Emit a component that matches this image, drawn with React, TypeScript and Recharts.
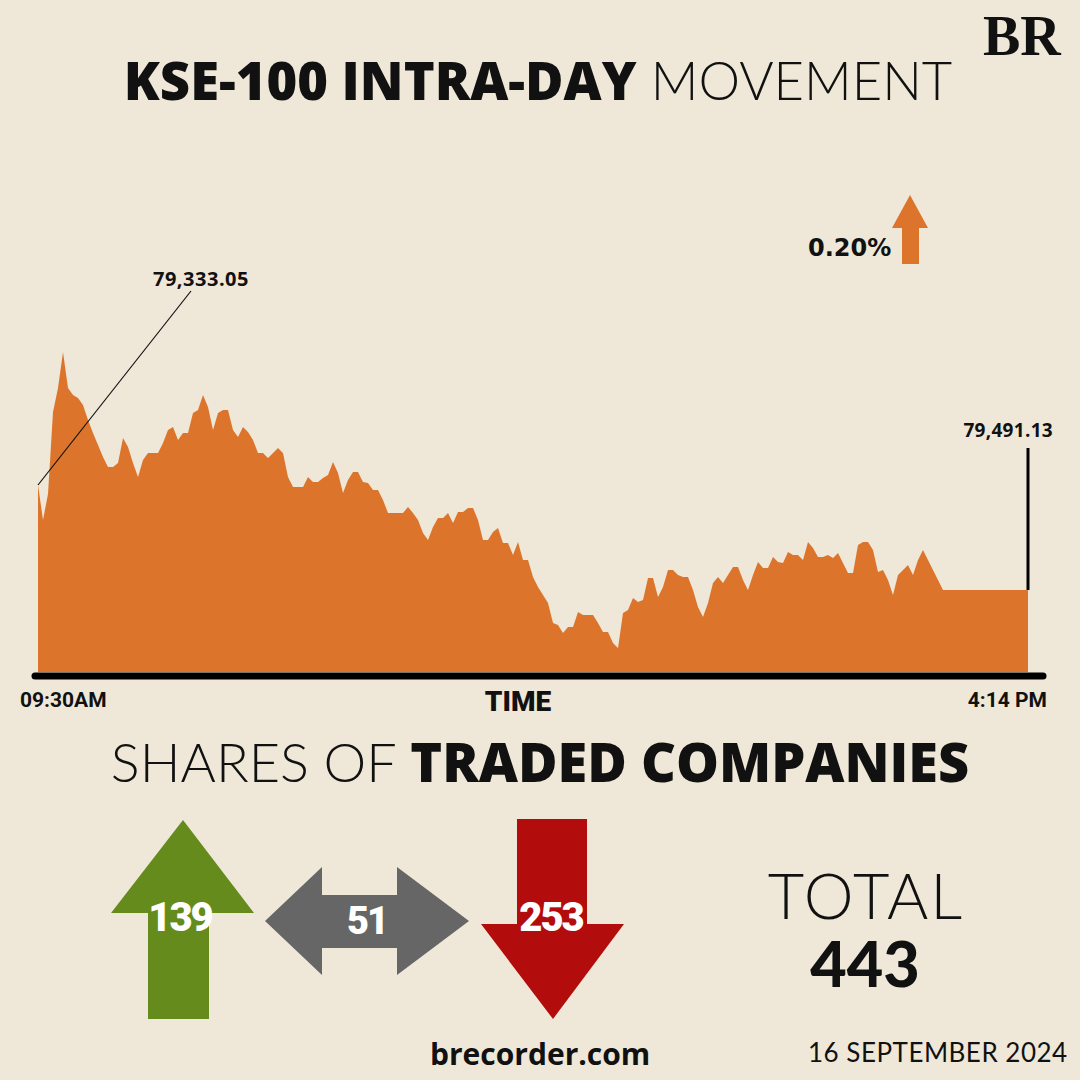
import { AreaChart, Area, XAxis, YAxis, ReferenceLine, Label } from 'recharts';

// KSE-100 level, read off the picture as height above the time axis (no y scale is printed)
const levels = [
  187, 152, 178, 260, 284, 320, 284, 277, 274, 267,
  252, 239, 227, 215, 205, 205, 209, 234, 225, 209,
  195, 212, 219, 219, 219, 229, 242, 245, 232, 239,
  239, 259, 262, 277, 265, 242, 259, 262, 262, 242,
  235, 245, 240, 232, 219, 219, 214, 219, 224, 219,
  195, 185, 185, 185, 195, 190, 190, 194, 197, 210,
  199, 179, 192, 200, 200, 190, 189, 182, 182, 172,
  159, 159, 159, 159, 165, 159, 152, 139, 132, 145,
  154, 154, 159, 149, 160, 160, 164, 164, 152, 132,
  132, 140, 144, 129, 129, 117, 130, 112, 112, 95,
  85, 77, 69, 49, 47, 39, 45, 45, 60, 57,
  57, 57, 49, 40, 40, 29, 24, 59, 62, 74,
  70, 72, 94, 94, 75, 85, 102, 102, 97, 95,
  95, 82, 65, 55, 69, 89, 95, 89, 97, 105,
  105, 92, 82, 97, 110, 104, 104, 115, 110, 109,
  120, 117, 117, 112, 130, 124, 115, 115, 117, 114,
  119, 109, 99, 99, 127, 130, 130, 122, 100, 102,
  92, 77, 97, 102, 107, 97, 112, 122, 112, 102,
  92, 82, 82, 82, 82, 82, 82, 82, 82, 82,
  82, 82, 82, 82, 82, 82, 82, 82, 82,
];

const timeLabels = ['09:30AM', '4:14 PM'];
const openValue = '79,333.05';
const closeValue = '79,491.13';
const changePct = '0.20%';

const breadthLabels = ['up', 'unchanged', 'down'];
const breadthCounts = [139, 51, 253];

const BG = '#efe8d8';
const ORANGE = '#dd742c';

const rows = levels.map((v, i) => ({ i, v }));
const lastIdx = levels.length - 1;

function TimeTick(props: any) {
  const { x, y, payload } = props;
  const first = payload.value === 0;
  return (
    <text
      x={first ? x - 18 : x + 19}
      y={y + 23}
      textAnchor={first ? 'start' : 'end'}
      fontFamily="Roboto"
      fontWeight={700}
      fontSize={21}
      fill="#111"
    >
      {first ? timeLabels[0] : timeLabels[1]}
    </text>
  );
}

function TimeLabel() {
  return (
    <text x={518} y={711} textAnchor="middle" fontFamily="Roboto" fontWeight={900} fontSize={28} fill="#111">
      TIME
    </text>
  );
}

export default function App() {
  const total = breadthCounts.reduce((a, b) => a + b, 0);
  return (
    <div style={{ position: 'absolute', left: 0, top: 0, width: 1080, height: 1080, background: BG, overflow: 'hidden' }}>
      <div style={{ position: 'absolute', left: 0, top: 0 }}>
        <AreaChart width={1080} height={720} data={rows} margin={{ top: 92, right: 37, left: 35, bottom: 0 }}>
          <XAxis
            type="number"
            dataKey="i"
            domain={[0, lastIdx]}
            ticks={[0, lastIdx]}
            interval={0}
            padding={{ left: 3, right: 15 }}
            height={44}
            axisLine={{ stroke: '#000', strokeWidth: 7, strokeLinecap: 'round' }}
            tickLine={false}
            tick={(p: any) => <TimeTick {...p} />}
          >
            <Label content={<TimeLabel />} />
          </XAxis>
          <YAxis
            domain={[-4, 580]}
            width={0}
            tick={false}
            tickLine={false}
            allowDataOverflow
            axisLine={{ stroke: '#000', strokeWidth: 7, strokeLinecap: 'round' }}
          />
          <Area
            type="linear"
            dataKey="v"
            stroke="none"
            fill={ORANGE}
            fillOpacity={1}
            dot={false}
            activeDot={false}
            isAnimationActive={false}
          />
          <ReferenceLine
            segment={[{ x: 0, y: levels[0] }, { x: 30.6, y: 381 }]}
            stroke="#111"
            strokeWidth={1.2}
            ifOverflow="visible"
          />
          <ReferenceLine
            segment={[{ x: lastIdx, y: levels[lastIdx] }, { x: lastIdx, y: 224 }]}
            stroke="#000"
            strokeWidth={3}
            ifOverflow="visible"
          />
        </AreaChart>
      </div>

      <svg width={1080} height={1080} style={{ position: 'absolute', left: 0, top: 0, pointerEvents: 'none' }}>
        {/* masthead */}
        <text x={983} y={55} fontFamily="Liberation Serif" fontWeight={700} fontSize={56} fill="#111">BR</text>
        <text x={538} y={100} textAnchor="middle" fontSize={52.5} fill="#111">
          <tspan fontFamily="Open Sans" fontWeight={800}>KSE-100 INTRA-DAY</tspan>
          <tspan fontFamily="Lato" fontWeight={300}> MOVEMENT</tspan>
        </text>

        {/* change badge */}
        <text x={808} y={256} fontFamily="DejaVu Sans" fontWeight={700} fontSize={24} fill="#111">{changePct}</text>
        <polygon points="910,195 928,228 919,228 919,264 902,264 902,228 892,228" fill={ORANGE} />

        {/* open / close values */}
        <text x={153} y={286} fontFamily="Open Sans" fontWeight={700} fontSize={20} letterSpacing={0.5} fill="#111">{openValue}</text>
        <text x={1053} y={437} textAnchor="end" fontFamily="Open Sans" fontWeight={700} fontSize={19} letterSpacing={0.3} fill="#111">{closeValue}</text>

        {/* breadth section */}
        <text x={540} y={782} textAnchor="middle" fontSize={54} fill="#111">
          <tspan fontFamily="Lato" fontWeight={300}>SHARES OF </tspan>
          <tspan fontFamily="Open Sans" fontWeight={800}>TRADED COMPANIES</tspan>
        </text>

        <g aria-label={breadthLabels[0]}>
          <polygon points="183,820 254,913 209,913 209,1019 148,1019 148,913 111,913" fill="#648b1b" />
          <text x={180} y={931} textAnchor="middle" fontFamily="Roboto" fontWeight={900} fontSize={40} letterSpacing={-2} fill="#fff">{breadthCounts[0]}</text>
        </g>
        <g aria-label={breadthLabels[1]}>
          <polygon points="265,921 322,867 322,895 397,895 397,867 469,921 397,975 397,948 322,948 322,975" fill="#666666" />
          <text x={367} y={934} textAnchor="middle" fontFamily="Roboto" fontWeight={900} fontSize={38} letterSpacing={-2} fill="#fff">{breadthCounts[1]}</text>
        </g>
        <g aria-label={breadthLabels[2]}>
          <polygon points="517,819 587,819 587,924 624,924 553,1019 481,924 517,924" fill="#b30c0c" />
          <text x={551} y={931} textAnchor="middle" fontFamily="Roboto" fontWeight={900} fontSize={40} letterSpacing={-2} fill="#fff">{breadthCounts[2]}</text>
        </g>

        <text x={866} y={919} textAnchor="middle" fontFamily="Lato" fontWeight={300} fontSize={63} letterSpacing={2} fill="#111">TOTAL</text>
        <text x={865} y={987} textAnchor="middle" fontFamily="Lato" fontWeight={900} fontSize={63} fill="#111">{total}</text>

        <text x={430} y={1065} fontFamily="Open Sans" fontWeight={700} fontSize={30} fill="#111">brecorder.com</text>
        <text x={808} y={1062} fontFamily="Lato" fontWeight={400} fontSize={26} letterSpacing={0.5} fill="#111">16 SEPTEMBER 2024</text>
      </svg>
    </div>
  );
}
